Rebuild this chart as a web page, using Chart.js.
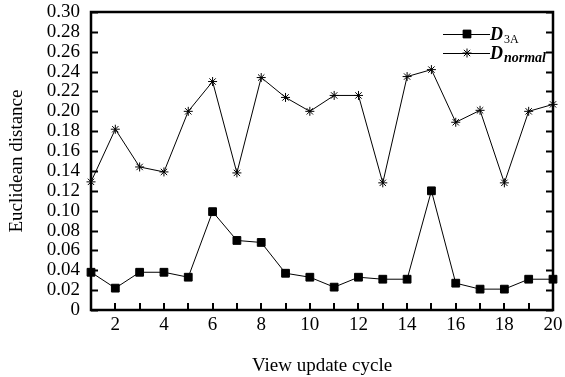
<!DOCTYPE html>
<html>
<head>
<meta charset="utf-8">
<script src="https://cdn.jsdelivr.net/npm/chart.js@4"></script>
<style>
  html, body { margin: 0; padding: 0; background: #fff; }
  #wrap { width: 565px; height: 377px; }
</style>
</head>
<body>
<div id="wrap"><canvas id="distChart" width="565" height="377"></canvas></div>
<script>
// values
const cycles = ['1','2','3','4','5','6','7','8','9','10','11','12','13','14','15','16','17','18','19','20'];
const d3a = [0.038, 0.022, 0.038, 0.038, 0.033, 0.099, 0.070, 0.068, 0.037, 0.033,
             0.023, 0.033, 0.031, 0.031, 0.120, 0.027, 0.021, 0.021, 0.031, 0.031];
const dNormal = [0.129, 0.182, 0.144, 0.139, 0.200, 0.230, 0.138, 0.234, 0.214, 0.200,
                 0.216, 0.216, 0.128, 0.235, 0.242, 0.189, 0.201, 0.128, 0.200, 0.207];
const yTicks = [0, 0.02, 0.04, 0.06, 0.08, 0.10, 0.12, 0.14, 0.16, 0.18, 0.20, 0.22, 0.24, 0.26, 0.28, 0.30];

const serif = '"Liberation Serif", "Times New Roman", serif';

// box round the plot, with inward ticks
const framePlugin = {
    id: 'frame',
    afterDatasetsDraw(chart) {
        const ctx = chart.ctx;
        const a = chart.chartArea;
        const x = chart.scales.x, y = chart.scales.y;
        ctx.save();
        ctx.strokeStyle = '#000';
        ctx.lineWidth = 2;
        ctx.beginPath();
        y.ticks.forEach(t => {
            const py = Math.round(y.getPixelForValue(t.value)) + 0.5;
            ctx.moveTo(a.left, py); ctx.lineTo(a.left + 7, py);
            ctx.moveTo(a.right, py); ctx.lineTo(a.right - 7, py);
        });
        cycles.forEach((c, i) => {
            const px = Math.round(x.getPixelForValue(i));
            ctx.moveTo(px, a.bottom); ctx.lineTo(px, a.bottom - 7);
        });
        ctx.stroke();
        ctx.lineWidth = 2.5;
        ctx.strokeRect(a.left, a.top, a.right - a.left, a.bottom - a.top);
        ctx.restore();
    }
};

// legend with subscripts
const legendPlugin = {
    id: 'subLegend',
    afterDraw(chart) {
        const ctx = chart.ctx;
        const rows = [
            { ds: 0, y: 34, sub: '3A', subFont: '12px ' + serif },
            { ds: 1, y: 53, sub: 'normal', subFont: 'italic bold 14px ' + serif }
        ];
        ctx.save();
        rows.forEach(r => {
            const ds = chart.data.datasets[r.ds];
            ctx.strokeStyle = '#000';
            ctx.lineWidth = 1;
            ctx.beginPath();
            ctx.moveTo(443, r.y + 0.5); ctx.lineTo(490, r.y + 0.5);
            ctx.stroke();
            Chart.helpers.drawPoint(ctx, {
                pointStyle: ds.pointStyle, radius: ds.pointRadius,
                borderWidth: ds.borderWidth, rotation: 0
            }, 467, r.y);
            ctx.fillStyle = '#000';
            ctx.strokeStyle = '#000';
            if (ds.pointStyle === 'rect') ctx.fill();
            ctx.textBaseline = 'alphabetic';
            ctx.textAlign = 'left';
            ctx.font = 'italic bold 18px ' + serif;
            ctx.fillText('D', 490, r.y + 6);
            const w = ctx.measureText('D').width;
            ctx.font = r.subFont;
            ctx.fillText(r.sub, 490 + w + 1, r.y + 9);
        });
        ctx.restore();
    }
};

const chart = new Chart(document.getElementById('distChart').getContext('2d'), {
    type: 'line',
    data: {
        labels: cycles,
        datasets: [
            {
                label: 'D3A',
                data: d3a,
                borderColor: '#000',
                backgroundColor: '#000',
                borderWidth: 1,
                pointStyle: 'rect',
                pointRadius: 5.5,
                pointBorderWidth: 1,
                tension: 0
            },
            {
                label: 'Dnormal',
                data: dNormal,
                borderColor: '#000',
                backgroundColor: '#000',
                borderWidth: 1,
                pointStyle: 'star',
                pointRadius: 4.5,
                pointBorderWidth: 1,
                tension: 0
            }
        ]
    },
    options: {
        responsive: false,
        animation: false,
        layout: { padding: { left: 0, top: 12, right: 12, bottom: 0 } },
        plugins: {
            legend: { display: false },
            tooltip: { enabled: false }
        },
        scales: {
            x: {
                type: 'category',
                offset: false,
                grid: { display: false, drawTicks: false },
                border: { display: false },
                ticks: {
                    autoSkip: false,
                    maxRotation: 0,
                    padding: 4,
                    color: '#000',
                    font: { family: serif, size: 19 },
                    callback: function(v, i) { return (i + 1) % 2 === 0 ? cycles[i] : ''; }
                },
                title: {
                    display: true,
                    text: 'View update cycle',
                    color: '#000',
                    font: { family: serif, size: 19 },
                    padding: { top: 5, bottom: 0 }
                },
                afterFit: s => {
                    s.height = 67;
                    s.paddingLeft = 0;
                    s.paddingRight = 0;
                }
            },
            y: {
                min: 0,
                max: 0.30,
                grid: { display: false, drawTicks: false },
                border: { display: false },
                afterBuildTicks: s => { s.ticks = yTicks.map(v => ({ value: v })); },
                ticks: {
                    autoSkip: false,
                    padding: 11,
                    color: '#000',
                    font: { family: serif, size: 19 },
                    callback: v => v === 0 ? '0' : v.toFixed(2)
                },
                title: {
                    display: true,
                    text: 'Euclidean distance',
                    color: '#000',
                    font: { family: serif, size: 19 },
                    padding: { top: 6, bottom: 0 }
                },
                afterFit: s => {
                    s.width = 91;
                    s.paddingTop = 0;
                    s.paddingBottom = 0;
                }
            }
        }
    },
    plugins: [framePlugin, legendPlugin]
});
</script>
</body>
</html>
